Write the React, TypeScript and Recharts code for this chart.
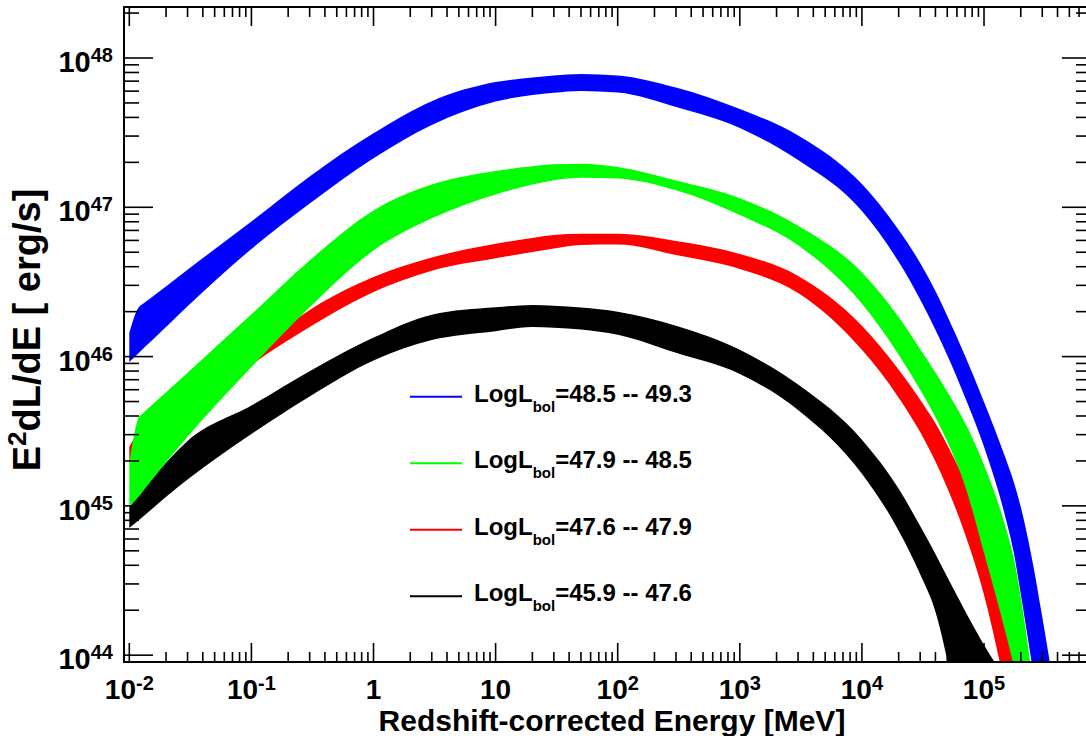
import React from "react";
import { ComposedChart, Area, XAxis, YAxis, ReferenceArea, Legend, Label } from "recharts";

const FONT = '"Liberation Sans", Arial, Helvetica, sans-serif';

// energy grid [MeV] and band edges E^2 dL/dE [erg/s]
const ENERGY = [0.01, 0.012, 0.0127, 0.015, 0.03, 0.1, 0.3, 1, 3, 10, 20, 30, 50, 100, 300, 1000, 3000, 1e4, 2e4, 3e4, 4e4, 5e4, 7e4, 1e5, 1.5e5, 1.75e5, 2e5, 2.5e5, 3e5, 4e5];

const BLUE_HI = [1.44e46, 2.15e46, 2.23e46, 2.47e46, 3.82e46, 8.02e46, 1.61e47, 3.13e47, 5.14e47, 6.9e47, 7.4e47, 7.64e47, 7.82e47, 7.64e47, 6.34e47, 4.55e47, 3.03e47, 1.43e47, 7.05e46, 4.24e46, 2.75e46, 1.87e46, 1.01e46, 4.97e45, 2.09e45, 1.45e45, 9.84e44, 4.21e44, 1.8e44, 4.3e43];
const BLUE_LO = [9.2e45, 1.06e46, 1.11e46, 1.26e46, 2.17e46, 5.26e46, 1.06e47, 2.13e47, 3.56e47, 5.11e47, 5.65e47, 5.85e47, 6.01e47, 5.87e47, 4.7e47, 3.4e47, 2.07e47, 9.44e46, 4.31e46, 2.41e46, 1.51e46, 1.02e46, 5.33e45, 2.49e45, 8.34e44, 4.89e44, 2.56e44, 8.15e43, 3.08e43, 6.75e42];

const GREEN_HI = [1.94e45, 3.94e45, 4.11e45, 4.66e45, 7.8e45, 1.92e46, 4.41e46, 9.53e46, 1.42e47, 1.75e47, 1.88e47, 1.94e47, 1.96e47, 1.86e47, 1.51e47, 1.15e47, 7.53e46, 3.66e46, 1.84e46, 1.12e46, 7.82e45, 5.81e45, 3.59e45, 1.88e45, 7.23e44, 4.49e44, 2.44e44, 6.82e43, 2.06e43, 3.12e42];
const GREEN_LO = [9.84e44, 1.16e45, 1.23e45, 1.46e45, 2.9e45, 8.51e45, 2.14e46, 5.14e46, 8.43e46, 1.22e47, 1.42e47, 1.52e47, 1.58e47, 1.56e47, 1.3e47, 8.87e46, 5.56e46, 2.26e46, 1.03e46, 6.0e45, 3.93e45, 2.7e45, 1.36e45, 4.84e44, 1.42e44, 8.51e43, 5.01e43, 1.99e43, 9.19e42, 3.12e42];

const RED_HI = [2.48e45, 3.13e45, 3.23e45, 3.56e45, 5.28e45, 1.04e46, 2.05e46, 3.41e46, 4.61e46, 5.7e46, 6.23e46, 6.52e46, 6.66e46, 6.64e46, 5.95e46, 4.87e46, 3.47e46, 1.61e46, 8.17e45, 5.14e45, 3.57e45, 2.56e45, 1.44e45, 6.34e44, 1.59e44, 9.29e43, 5.41e43, 1.99e43, 9.19e42, 3.12e42];
const RED_LO = [1.94e45, 2.3e45, 2.37e45, 2.61e45, 3.88e45, 8.79e45, 1.58e46, 2.71e46, 3.76e46, 4.55e46, 5.02e46, 5.3e46, 5.59e46, 5.63e46, 4.79e46, 3.86e46, 2.67e46, 1.11e46, 5.31e45, 3.12e45, 1.98e45, 1.32e45, 6.46e44, 2.53e44, 5.89e43, 3.16e43, 1.7e43, 6.75e42, 3.12e42, 1.06e42];

const BLACK_HI = [9.84e44, 1.18e45, 1.25e45, 1.48e45, 2.72e45, 4.7e45, 7.98e45, 1.34e46, 1.91e46, 2.14e46, 2.22e46, 2.19e46, 2.13e46, 2.0e46, 1.61e46, 1.11e46, 6.49e45, 2.77e45, 1.3e45, 7.33e44, 4.76e44, 3.34e44, 1.98e44, 1.17e44, 6.82e43, 5.41e43, 4.3e43, 2.7e43, 1.46e43, 4.95e42];
const BLACK_LO = [7.11e44, 8.05e44, 8.37e44, 9.4e44, 1.5e45, 3.03e45, 5.41e45, 9.42e45, 1.29e46, 1.48e46, 1.58e46, 1.56e46, 1.52e46, 1.4e46, 1.06e46, 7.65e45, 4.39e45, 1.64e45, 6.82e44, 3.48e44, 1.95e44, 9.29e43, 1.99e43, 4.95e42, 2.29e42, 1.68e42, 1.06e42, 6.67e41, 4.91e41, 2.27e41];

const LEGEND_RANGES = ["48.5 -- 49.3", "47.9 -- 48.5", "47.6 -- 47.9", "45.9 -- 47.6"];
const LEGEND_COLORS = ["#0000ff", "#00ff00", "#ff0000", "#000000"];

const X_MAJOR = [0.01, 0.1, 1, 10, 100, 1000, 1e4, 1e5];
const X_LABELS = [["10", "-2"], ["10", "-1"], ["1", ""], ["10", ""], ["10", "2"], ["10", "3"], ["10", "4"], ["10", "5"]];
const Y_MAJOR = [1e44, 1e45, 1e46, 1e47, 1e48];
const Y_LABELS = [["10", "44"], ["10", "45"], ["10", "46"], ["10", "47"], ["10", "48"]];

// layout
const CHART_W = 1100;
const CHART_H = 736;
const PLOT_LEFT = 124;
const PLOT_RIGHT = 1091;
const PLOT_TOP = 7;
const PLOT_BOTTOM = 662;
const X_MIN = 0.009049;
const X_MAX = 7.52e5;
const Y_MIN = 9.0e43;
const Y_MAX = 2.196e48;

function minorTicks(from: number, to: number, min: number, max: number) {
  const out: number[] = [];
  for (let n = from; n <= to; n++) {
    for (let k = 1; k <= 9; k++) {
      const v = k * Math.pow(10, n);
      if (v > min && v < max) out.push(v);
    }
  }
  return out;
}
const X_TICKS = minorTicks(-3, 5, X_MIN, X_MAX);
const Y_TICKS = minorTicks(43, 48, Y_MIN * 1.001, Y_MAX);

const ROWS = ENERGY.map((e, i) => ({
  e,
  blue: [BLUE_LO[i], BLUE_HI[i]],
  green: [GREEN_LO[i], GREEN_HI[i]],
  red: [RED_LO[i], RED_HI[i]],
  black: [BLACK_LO[i], BLACK_HI[i]],
}));

// drawn back to front: green covers red where they overlap
const SERIES = [
  { key: "black", color: "#000000" },
  { key: "red", color: "#ff0000" },
  { key: "green", color: "#00ff00" },
  { key: "blue", color: "#0000ff" },
];

const majorIndex = (list: number[], v: number) => list.findIndex((m) => Math.abs(m - v) / m < 1e-6);

function XTick(props: any) {
  const { x, payload } = props;
  const idx = majorIndex(X_MAJOR, payload.value);
  const len = idx >= 0 ? 19 : 10;
  return (
    <g>
      <line x1={x} x2={x} y1={PLOT_BOTTOM} y2={PLOT_BOTTOM - len} stroke="#000" strokeWidth={1.6} />
      <line x1={x} x2={x} y1={PLOT_TOP} y2={PLOT_TOP + len} stroke="#000" strokeWidth={1.6} />
      {idx >= 0 && (
        <text x={x} y={699} textAnchor="middle" fontFamily={FONT} fontWeight="bold" fontSize={28} fill="#000">
          {X_LABELS[idx][0]}
          {X_LABELS[idx][1] && <tspan dy={-9} fontSize={20}>{X_LABELS[idx][1]}</tspan>}
        </text>
      )}
    </g>
  );
}

function YTick(props: any) {
  const { y, payload } = props;
  const idx = majorIndex(Y_MAJOR, payload.value);
  const len = idx >= 0 ? 29 : 15;
  return (
    <g>
      <line x1={PLOT_LEFT} x2={PLOT_LEFT + len} y1={y} y2={y} stroke="#000" strokeWidth={1.6} />
      <line x1={PLOT_RIGHT} x2={PLOT_RIGHT - len} y1={y} y2={y} stroke="#000" strokeWidth={1.6} />
      {idx >= 0 && (
        <text x={113} y={y + 14} textAnchor="end" fontFamily={FONT} fontWeight="bold" fontSize={29} fill="#000">
          {Y_LABELS[idx][0]}
          <tspan dy={-10} fontSize={20}>{Y_LABELS[idx][1]}</tspan>
        </text>
      )}
    </g>
  );
}

const XTitle = () => (
  <text x={612} y={731} textAnchor="middle" fontFamily={FONT} fontWeight="bold" fontSize={30} fill="#000">
    Redshift-corrected Energy [MeV]
  </text>
);

const YTitle = () => (
  <text x={40} y={330} transform="rotate(-90 40 330)" textAnchor="middle" fontFamily={FONT} fontWeight="bold" fontSize={38} fill="#000">
    E<tspan dy={-14} fontSize={26}>2</tspan>
    <tspan dy={14}>dL/dE [ erg/s]</tspan>
  </text>
);

function LegendOverlay() {
  return (
    <svg width={CHART_W} height={CHART_H} style={{ display: "block", pointerEvents: "none" }}>
      {LEGEND_RANGES.map((r, i) => {
        const y = 396.7 + i * 66.5;
        return (
          <g key={r}>
            <line x1={410} x2={462} y1={y} y2={y} stroke={LEGEND_COLORS[i]} strokeWidth={2} />
            <text x={474} y={y + 5} fontFamily={FONT} fontWeight="bold" fontSize={24} fill="#000">
              LogL<tspan dy={10} fontSize={15}>bol</tspan>
              <tspan dy={-10}>={r}</tspan>
            </text>
          </g>
        );
      })}
    </svg>
  );
}

export default function App() {
  return (
    <div style={{ position: "absolute", left: 0, top: 0, width: 1086, height: 736, overflow: "hidden", background: "#fff" }}>
      <ComposedChart
        width={CHART_W}
        height={CHART_H}
        data={ROWS}
        margin={{ top: PLOT_TOP, right: CHART_W - PLOT_RIGHT, bottom: 0, left: 0 }}
      >
        <XAxis
          dataKey="e"
          type="number"
          scale="log"
          domain={[X_MIN, X_MAX]}
          allowDataOverflow
          ticks={X_TICKS}
          interval={0}
          tick={<XTick />}
          tickLine={false}
          axisLine={false}
          height={CHART_H - PLOT_BOTTOM}
        >
          <Label content={() => <XTitle />} />
        </XAxis>
        <YAxis
          type="number"
          scale="log"
          domain={[Y_MIN, Y_MAX]}
          allowDataOverflow
          ticks={Y_TICKS}
          interval={0}
          tick={<YTick />}
          tickLine={false}
          axisLine={false}
          width={PLOT_LEFT}
        >
          <Label content={() => <YTitle />} />
        </YAxis>
        {SERIES.map((s) => (
          <Area
            key={s.key}
            dataKey={s.key}
            type="monotone"
            stroke="none"
            fill={s.color}
            fillOpacity={1}
            dot={false}
            activeDot={false}
            isAnimationActive={false}
          />
        ))}
        <ReferenceArea x1={X_MIN} x2={X_MAX} y1={Y_MIN} y2={Y_MAX} fill="none" stroke="#000" strokeWidth={2} ifOverflow="visible" />
        <Legend
          layout="horizontal"
          verticalAlign="middle"
          align="center"
          content={() => <LegendOverlay />}
          wrapperStyle={{ left: 0, top: 0, width: CHART_W, height: CHART_H }}
        />
      </ComposedChart>
    </div>
  );
}
